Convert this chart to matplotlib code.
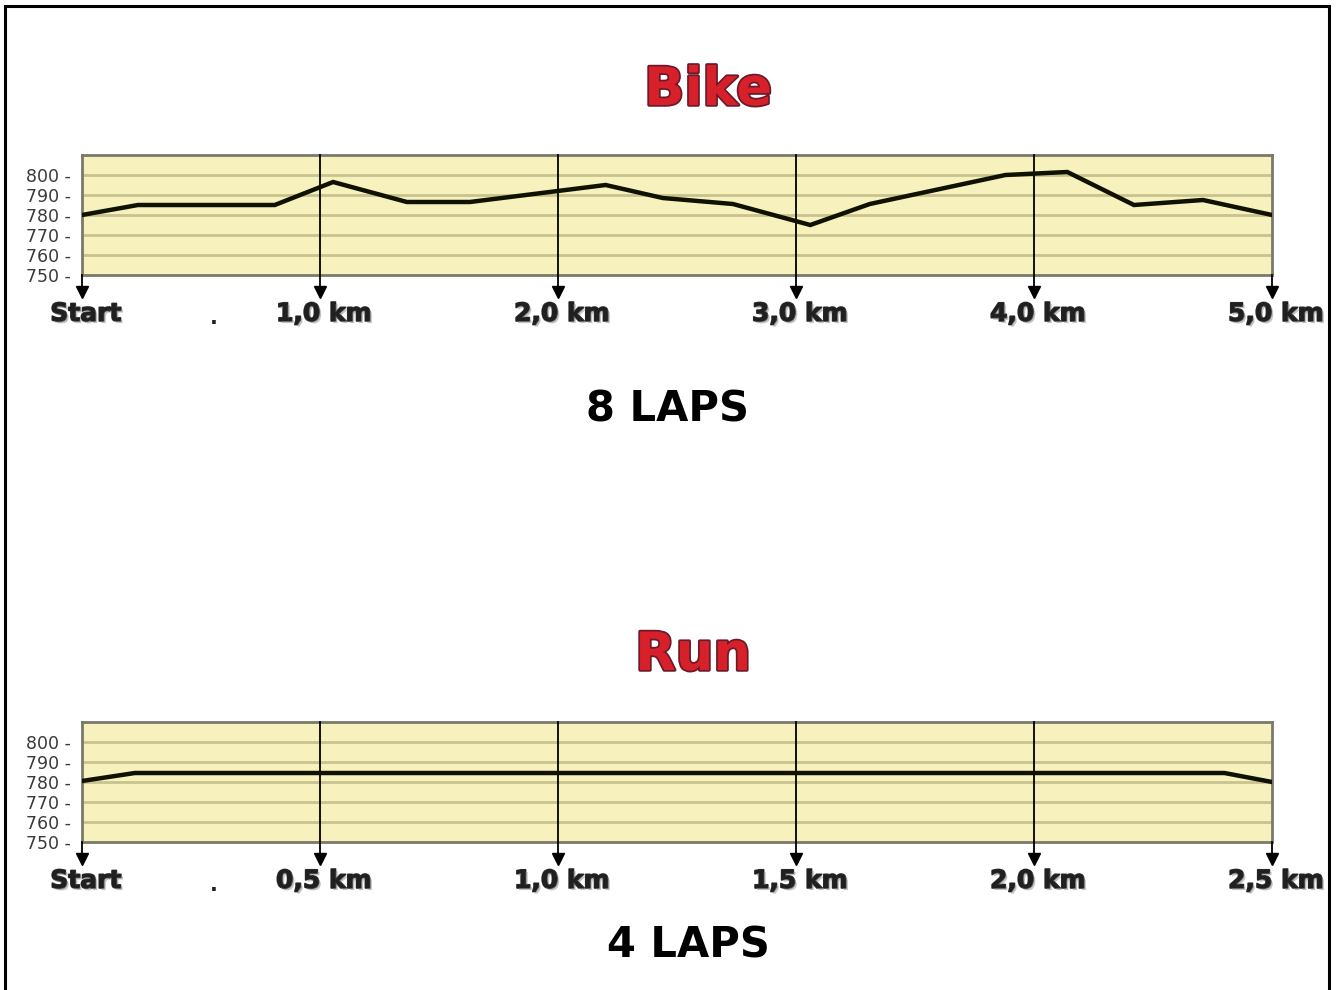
# Bike and run course elevation profiles (8 laps bike, 4 laps run)

import numpy as np
import matplotlib.pyplot as plt
import matplotlib.patheffects as pe
from matplotlib.patches import Rectangle

# bike profile: distance (km) and elevation (m)
bike_km = [0.0, 0.235, 0.81, 1.055, 1.365, 1.63, 2.20, 2.44, 2.735, 3.06, 3.31, 3.88, 4.14, 4.42, 4.71, 5.0]
bike_elev = [780, 785, 785, 796.5, 786.5, 786.5, 795, 788.5, 785.5, 775, 785.5, 800, 801.5, 785, 787.5, 780]
bike_ticks = [0.0, 1.0, 2.0, 3.0, 4.0, 5.0]
bike_labels = ['Start', '1,0 km', '2,0 km', '3,0 km', '4,0 km', '5,0 km']

# run profile
run_km = [0.0, 0.111, 2.40, 2.5]
run_elev = [780.5, 784.5, 784.5, 780]
run_ticks = [0.0, 0.5, 1.0, 1.5, 2.0, 2.5]
run_labels = ['Start', '0,5 km', '1,0 km', '1,5 km', '2,0 km', '2,5 km']

elev_ticks = [750, 760, 770, 780, 790, 800]

fill_col = '#f6f1bd'
grid_col = '#c9c28e'


def draw_profile(ax, km, elev, ticks, labels):
    """Yellow box with grid, the elevation line and the arrow ticks below."""
    ax.set_facecolor(fill_col)
    ax.set_xlim(ticks[0], ticks[-1])
    ax.set_ylim(750, 810)
    for e in elev_ticks[1:]:
        ax.axhline(e, color=grid_col, lw=2, zorder=1)
    for s in ax.spines.values():
        s.set_color('#7a7a6a')
        s.set_linewidth(2)

    ax.set_xticks([])
    ax.set_yticks(elev_ticks)
    ax.set_yticklabels([str(e) + ' -' for e in elev_ticks])
    ax.tick_params(axis='y', length=0, pad=8, labelsize=12.5, labelcolor='#3a3a3a')

    # arrows: interior ones run through the box, ends only below it
    dx = (ticks[1] - ticks[0]) * 0.017
    for i, t in enumerate(ticks):
        top = 750 if i in (0, len(ticks) - 1) else 810
        ax.plot([t, t], [top, 742], color='black', lw=1.3, clip_on=False, zorder=3)
        ax.plot(t, 741.5, marker='v', color='black', markersize=8, clip_on=False, zorder=3)
        ax.text(t + dx, 730.5, labels[i], ha='center', va='center', fontsize=18,
                fontweight='heavy', color='#202020', clip_on=False,
                path_effects=[pe.withStroke(linewidth=1.2, foreground='#303030'),
                              pe.withSimplePatchShadow(offset=(1.5, -1.5), shadow_rgbFace='#888888', alpha=0.5)])

    ax.plot(km, elev, color='#111100', lw=3.2, solid_joinstyle='miter', zorder=4)
    # stray dot next to the start label
    ax.text(ticks[0] + (ticks[1] - ticks[0]) * 0.555, 728.5, '.', ha='center', va='center',
            fontsize=15, fontweight='bold', color='#222222', clip_on=False)


fig = plt.figure(figsize=(13.36, 9.9), dpi=100)

ax1 = fig.add_axes([82 / 1336, 1 - 275 / 990, 1190 / 1336, 120 / 990])
draw_profile(ax1, bike_km, bike_elev, bike_ticks, bike_labels)

ax2 = fig.add_axes([82 / 1336, 1 - 842 / 990, 1190 / 1336, 120 / 990])
draw_profile(ax2, run_km, run_elev, run_ticks, run_labels)

title_fx = [pe.withStroke(linewidth=2.5, foreground='#6a1a2a')]
fig.text(708 / 1336, 1 - 90 / 990, 'Bike', ha='center', va='center', fontsize=38,
         fontweight='heavy', color='#d8202a', path_effects=title_fx)
fig.text(693 / 1336, 1 - 655 / 990, 'Run', ha='center', va='center', fontsize=38,
         fontweight='heavy', color='#d8202a', path_effects=title_fx)

fig.text(668 / 1336, 1 - 410 / 990, '8 LAPS', ha='center', va='center', fontsize=30,
         fontweight='bold', color='black')
fig.text(688 / 1336, 1 - 945 / 990, '4 LAPS', ha='center', va='center', fontsize=30,
         fontweight='bold', color='black')

# black frame around the whole picture
fig.patches.append(Rectangle((5 / 1336, -0.01), 1324 / 1336, 1 - 6 / 990 + 0.01,
                             transform=fig.transFigure, fill=False, edgecolor='black', lw=2.2))

fig.savefig('out.png', dpi=100)
